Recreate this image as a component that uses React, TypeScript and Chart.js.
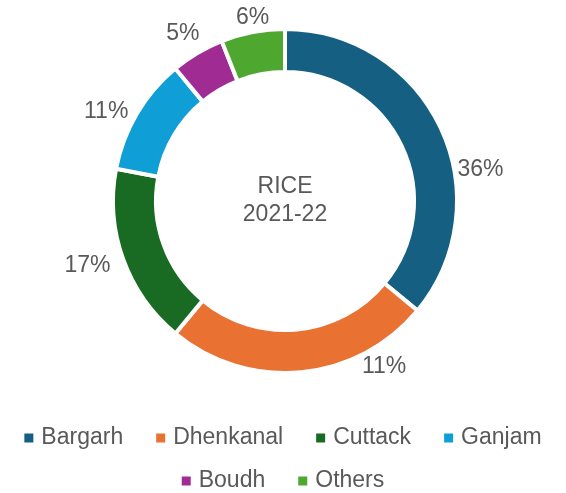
import React, { useEffect, useRef } from "react";
import { Chart, registerables } from "chart.js";

Chart.register(...registerables);

// ---- data ----
const categories = ["Bargarh", "Dhenkanal", "Cuttack", "Ganjam", "Boudh", "Others"];
const shareValues = [36, 25, 17, 11, 5, 6];
const shareLabels = ["36%", "11%", "17%", "11%", "5%", "6%"];
const centerTitle = ["RICE", "2021-22"];

// ---- styles ----
const sliceColors = ["#156082", "#E97132", "#196B24", "#0F9ED5", "#A02B93", "#4EA72E"];
const FONT = '"Liberation Sans", Arial, Helvetica, sans-serif';
const TEXT_COLOR = "#595959";

const outsideLabels = {
  id: "outsideLabels",
  afterDatasetsDraw(chart: any, _args: any, opts: any) {
    const meta = chart.getDatasetMeta(0);
    const ctx = chart.ctx;
    ctx.save();
    ctx.font = `${opts.size}px ${FONT}`;
    ctx.fillStyle = TEXT_COLOR;
    ctx.textAlign = "center";
    ctx.textBaseline = "middle";
    let cx = 0;
    let cy = 0;
    meta.data.forEach((arc: any, i: number) => {
      const p = arc.getProps(["x", "y", "startAngle", "endAngle"], true);
      cx = p.x;
      cy = p.y;
      const a = (p.startAngle + p.endAngle) / 2 + ((opts.shift[i] || 0) * Math.PI) / 180;
      const d = opts.dist[i];
      ctx.fillText(shareLabels[i], p.x + Math.cos(a) * d, p.y + Math.sin(a) * d);
    });
    // centre title
    const lh = opts.centerLine;
    centerTitle.forEach((t, i) => {
      ctx.fillText(t, cx, cy - lh / 2 - 0.5 + i * lh);
    });
    ctx.restore();
  },
};

const bottomLegend = {
  id: "bottomLegend",
  afterDraw(chart: any, _args: any, opts: any) {
    const ctx = chart.ctx;
    ctx.save();
    ctx.font = `${opts.size}px ${FONT}`;
    ctx.textBaseline = "middle";
    ctx.textAlign = "left";
    const items = categories.map((c, i) => ({
      text: c,
      color: sliceColors[i],
      w: opts.box + opts.boxGap + ctx.measureText(c).width,
    }));
    const maxW = chart.width - 10;
    const rows: any[][] = [[]];
    let cur = 0;
    items.forEach((it) => {
      const add = (rows[rows.length - 1].length ? opts.itemGap : 0) + it.w;
      if (rows[rows.length - 1].length && cur + add > maxW) {
        rows.push([it]);
        cur = it.w;
      } else {
        rows[rows.length - 1].push(it);
        cur += add;
      }
    });
    rows.forEach((row, r) => {
      const total = row.reduce((s, it, k) => s + it.w + (k ? opts.itemGap : 0), 0);
      let x = opts.centerX - total / 2;
      const y = opts.firstRowY + r * opts.rowHeight;
      row.forEach((it) => {
        ctx.fillStyle = it.color;
        ctx.fillRect(x, y - opts.box / 2, opts.box, opts.box);
        ctx.fillStyle = TEXT_COLOR;
        ctx.fillText(it.text, x + opts.box + opts.boxGap, y);
        x += it.w + opts.itemGap;
      });
    });
    ctx.restore();
  },
};

export default function App() {
  const ref = useRef<HTMLCanvasElement | null>(null);

  useEffect(() => {
    if (!ref.current) return;
    const chart = new Chart(ref.current, {
      type: "doughnut",
      data: {
        labels: categories,
        datasets: [
          {
            data: shareValues,
            backgroundColor: sliceColors,
            borderColor: "#ffffff",
            borderWidth: 4,
            hoverOffset: 0,
          },
        ],
      },
      options: {
        responsive: false,
        animation: false,
        devicePixelRatio: 1,
        events: [],
        cutout: "75%",
        layout: { padding: { top: 27, left: 4, right: 0, bottom: 118 } },
        plugins: {
          legend: { display: false },
          tooltip: { enabled: false },
          outsideLabels: {
            size: 23,
            centerLine: 28,
            shift: [16, -25.5, 1.6, -4, -0.8, 0.8],
            dist: [198, 193, 208, 200, 196, 186],
          },
          bottomLegend: {
            size: 23,
            box: 9,
            boxGap: 8,
            itemGap: 33,
            centerX: 283,
            firstRowY: 438,
            rowHeight: 43,
          },
        } as any,
      },
      plugins: [outsideLabels, bottomLegend],
    });
    return () => chart.destroy();
  }, []);

  return (
    <div style={{ position: "fixed", left: 0, top: 0, width: 566, height: 493, background: "#ffffff" }}>
      <canvas ref={ref} width={566} height={493} style={{ display: "block" }} />
    </div>
  );
}
